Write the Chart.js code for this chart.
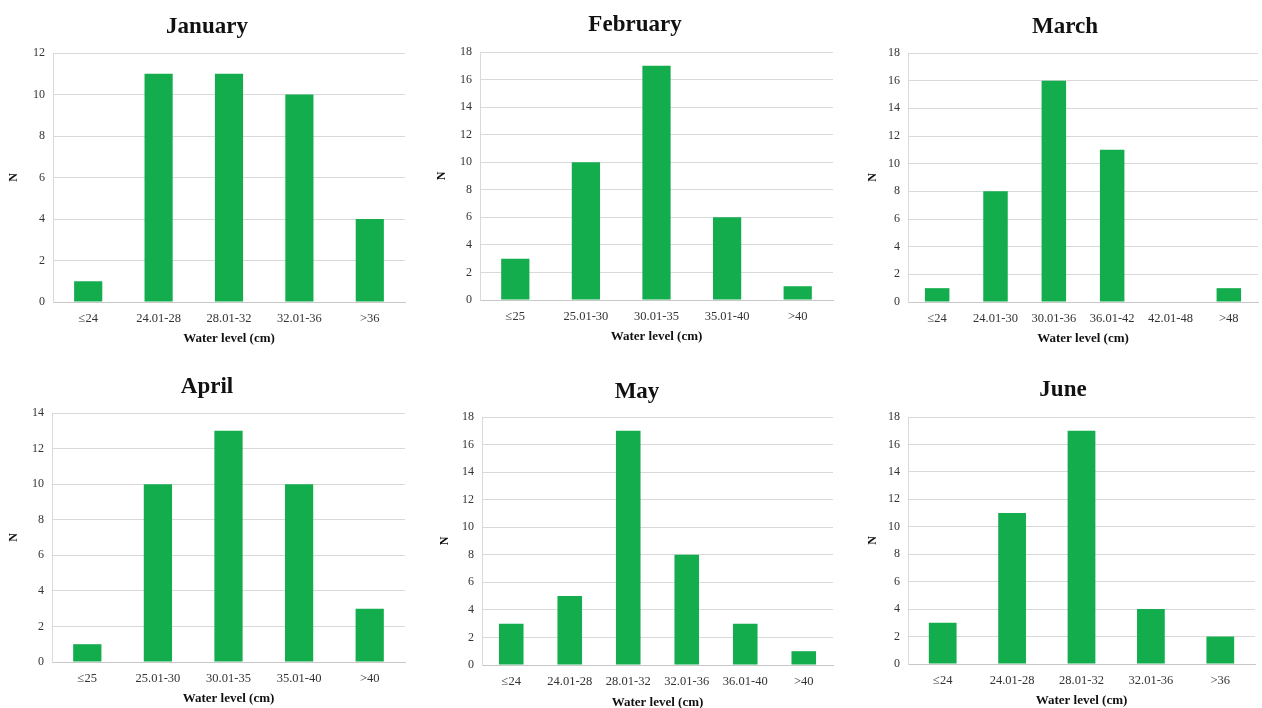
<!DOCTYPE html>
<html>
<head>
<meta charset="utf-8">
<script src="https://cdn.jsdelivr.net/npm/chart.js@4"></script>
<style>
  body { margin: 0; background: #fff; width: 1262px; height: 708px; overflow: hidden; position: relative; }
  .panel { position: absolute; }
</style>
</head>
<body>
<div class="panel" id="p0"><canvas id="c0"></canvas></div>
<div class="panel" id="p1"><canvas id="c1"></canvas></div>
<div class="panel" id="p2"><canvas id="c2"></canvas></div>
<div class="panel" id="p3"><canvas id="c3"></canvas></div>
<div class="panel" id="p4"><canvas id="c4"></canvas></div>
<div class="panel" id="p5"><canvas id="c5"></canvas></div>
<script>
// Data per month
const months = ['January', 'February', 'March', 'April', 'May', 'June'];

const janLabels = ['\u226424', '24.01-28', '28.01-32', '32.01-36', '>36'];
const janValues = [1, 11, 11, 10, 4];

const febLabels = ['\u226425', '25.01-30', '30.01-35', '35.01-40', '>40'];
const febValues = [3, 10, 17, 6, 1];

const marLabels = ['\u226424', '24.01-30', '30.01-36', '36.01-42', '42.01-48', '>48'];
const marValues = [1, 8, 16, 11, 0, 1];

const aprLabels = ['\u226425', '25.01-30', '30.01-35', '35.01-40', '>40'];
const aprValues = [1, 10, 13, 10, 3];

const mayLabels = ['\u226424', '24.01-28', '28.01-32', '32.01-36', '36.01-40', '>40'];
const mayValues = [3, 5, 17, 8, 3, 1];

const junLabels = ['\u226424', '24.01-28', '28.01-32', '32.01-36', '>36'];
const junValues = [3, 11, 17, 4, 2];

const yMax = [12, 18, 18, 14, 18, 18];

const allLabels = [janLabels, febLabels, marLabels, aprLabels, mayLabels, junLabels];
const allValues = [janValues, febValues, marValues, aprValues, mayValues, junValues];

// page layout: canvas left/top, plot area (L,R,T,B), title centre (tx,ty), N x, axis title y
const boxes = [
  { x: 0,   y: 0,   L: 53,  R: 405,  T: 53,  B: 302, tx: 207,  ty: 27,  nx: 14,  xt: 338 },
  { x: 426, y: 0,   L: 480, R: 833,  T: 52,  B: 300, tx: 635,  ty: 25,  nx: 442, xt: 336 },
  { x: 852, y: 0,   L: 908, R: 1258, T: 53,  B: 302, tx: 1065, ty: 27,  nx: 873, xt: 338 },
  { x: 0,   y: 360, L: 52,  R: 405,  T: 413, B: 662, tx: 207,  ty: 387, nx: 14,  xt: 698 },
  { x: 426, y: 360, L: 482, R: 833,  T: 417, B: 665, tx: 637,  ty: 392, nx: 445, xt: 702 },
  { x: 852, y: 360, L: 908, R: 1255, T: 417, B: 664, tx: 1063, ty: 390, nx: 873, xt: 700 }
];

const serif = '"Liberation Serif", "Times New Roman", serif';
const green = '#13ad4e';
const titleSize = 23, titleLH = titleSize * 1.2;
const axisTitleSize = 13, axisTitleLH = axisTitleSize * 1.2;

months.forEach((m, i) => {
  const b = boxes[i];
  const w = (i % 3 === 2) ? 1262 - b.x : 420;
  const h = Math.round(b.xt + axisTitleLH / 2 - b.y);
  const wrap = document.getElementById('p' + i);
  wrap.style.left = b.x + 'px';
  wrap.style.top = b.y + 'px';
  wrap.style.width = w + 'px';
  wrap.style.height = h + 'px';

  // left padding chosen so the title is centred at tx
  const padL = 2 * b.tx - b.x - b.R;
  const tTop = b.ty - b.y - titleLH / 2;
  const tBot = b.T - b.y - tTop - titleLH;

  new Chart(document.getElementById('c' + i), {
    type: 'bar',
    data: {
      labels: allLabels[i],
      datasets: [{
        label: m,
        data: allValues[i],
        backgroundColor: green,
        borderWidth: 0,
        barPercentage: allLabels[i].length > 5 ? 0.42 : 0.4,
        categoryPercentage: 1
      }]
    },
    options: {
      responsive: true,
      maintainAspectRatio: false,
      animation: false,
      layout: { padding: { left: padL, right: b.x + w - b.R, bottom: 0, top: 0 } },
      plugins: {
        legend: { display: false },
        tooltip: { enabled: false },
        title: {
          display: true,
          text: m,
          color: '#111',
          font: { family: serif, size: titleSize, weight: 'bold' },
          padding: { top: tTop, bottom: tBot }
        }
      },
      scales: {
        x: {
          grid: { display: false, drawTicks: false },
          border: { color: '#c8c8c8' },
          ticks: { color: '#333', font: { family: serif, size: 12.5 }, padding: 9, maxRotation: 0, autoSkip: false },
          title: { display: true, text: 'Water level (cm)', color: '#111', font: { family: serif, size: axisTitleSize, weight: 'bold' }, padding: 0 },
          afterFit: s => { s.height = b.y + h - b.B; }
        },
        y: {
          min: 0,
          max: yMax[i],
          grid: { color: '#d9d9d9', drawTicks: false },
          border: { color: '#d9d9d9' },
          ticks: { stepSize: 2, color: '#333', font: { family: serif, size: 12 }, padding: 8 },
          title: { display: true, text: 'N', color: '#111', font: { family: serif, size: 12, weight: 'bold' }, padding: { top: b.nx - b.x - padL - 7, bottom: 0 } },
          afterFit: s => { s.width = b.L - b.x - padL; }
        }
      }
    }
  });
});
</script>
</body>
</html>
